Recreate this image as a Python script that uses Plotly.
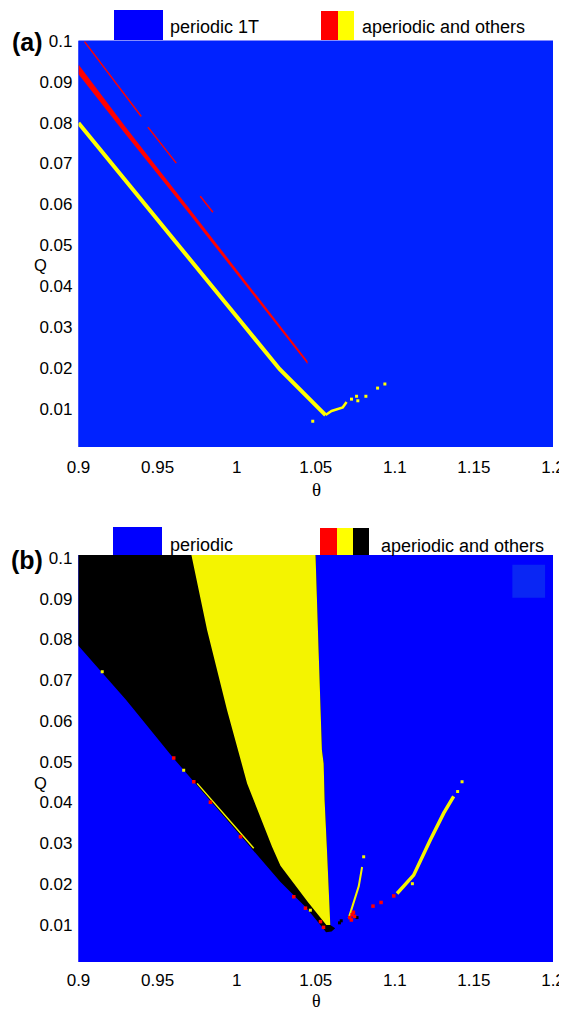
import plotly.graph_objects as go

# the page adds an 8 px body margin, so the figure is laid out in reference
# pixel coordinates shifted by that margin
OFF = 8
W, H = 567, 1010

# ---------------- axis ticks ----------------
theta_ticks = [0.9, 0.95, 1.0, 1.05, 1.1, 1.15, 1.2]
theta_labels = ["0.9", "0.95", "1", "1.05", "1.1", "1.15", "1.2"]
q_ticks = [0.01, 0.02, 0.03, 0.04, 0.05, 0.06, 0.07, 0.08, 0.09, 0.1]
q_labels = ["0.01", "0.02", "0.03", "0.04", "0.05", "0.06", "0.07", "0.08", "0.09", "0.1"]

# ---------------- panel (a) data ----------------
# yellow (aperiodic) curve
a_yel_theta = [0.9, 0.9300, 0.9595, 0.9639, 1.0000, 1.0272, 1.0494, 1.0562]
a_yel_q = [0.0799, 0.0656, 0.0519, 0.0497, 0.0326, 0.0197, 0.0112, 0.0085]
a_yel2_theta = [1.0562, 1.0600, 1.0671, 1.0695]
a_yel2_q = [0.0085, 0.0095, 0.0104, 0.0117]
a_yel_dots_theta = [1.0481, 1.0726, 1.0758, 1.0766, 1.0817, 1.0891, 1.0937]
a_yel_dots_q = [0.0070, 0.0124, 0.0131, 0.0120, 0.0131, 0.0151, 0.0161]
# thick red band (upper / lower edges)
a_red_theta = [0.9, 0.9300, 0.9700, 1.0448]
a_red_upper = [0.0942, 0.0788, 0.0590, 0.0217]
a_red_lower = [0.0918, 0.0770, 0.0577, 0.0210]
# thin red segments
a_thin_segments = [
    ([0.9038, 0.9397], [0.0998, 0.0815]),
    ([0.9439, 0.9618], [0.0789, 0.0701]),
    ([0.9770, 0.9850], [0.0620, 0.0581]),
]

# ---------------- panel (b) data ----------------
# lower boundary of the black region
b_low_theta = [0.9, 0.9300, 0.9602, 1.0066, 1.0277, 1.0440, 1.0550, 1.0565, 1.0600, 1.0623]
b_low_q = [0.0789, 0.0652, 0.0508, 0.0300, 0.0205, 0.0142, 0.0090, 0.0082, 0.0084, 0.0092]
# yellow / black boundary (left edge of yellow region)
b_yl_theta = [0.9703, 0.9813, 0.9939, 1.0066, 1.0223, 1.0277, 1.0450, 1.0567]
b_yl_q = [0.1010, 0.0823, 0.0627, 0.0447, 0.0292, 0.0245, 0.0156, 0.0100]
# yellow / blue boundary (right edge of yellow region)
b_yr_theta = [1.0497, 1.0518, 1.0539, 1.0550, 1.0556, 1.0571, 1.0588, 1.0592]
b_yr_q = [0.1010, 0.0774, 0.0529, 0.0496, 0.0406, 0.0284, 0.0129, 0.0100]
# specks on the black lower boundary
b_red_dots_theta = [0.9602, 0.9729, 0.9834, 1.0024, 1.0361, 1.0435, 1.0530, 1.0549,
                    1.0715, 1.0730, 1.0745, 1.0725, 1.0738, 1.0862, 1.0913, 1.0993]
b_red_dots_q = [0.0509, 0.0451, 0.0401, 0.0316, 0.0169, 0.0141, 0.0108, 0.0094,
                0.0118, 0.0125, 0.0121, 0.0112, 0.0131, 0.0146, 0.0155, 0.0171]
b_yel_dots_theta = [0.9150, 0.9665, 1.0319, 1.0466, 1.0803, 1.1111, 1.1397, 1.1425]
b_yel_dots_q = [0.0721, 0.0479, 0.0234, 0.0136, 0.0267, 0.0201, 0.0427, 0.0451]
b_blk_dots_theta = [1.0650, 1.0661, 1.0761]
b_blk_dots_q = [0.0105, 0.0110, 0.0118]
b_yel_strip_theta = [0.9750, 0.9930, 1.0108]
b_yel_strip_q = [0.0447, 0.0366, 0.0288]
# branch 1 (small) and branch 2 (right)
b_br1_theta = [1.0708, 1.0772, 1.0793]
b_br1_q = [0.0116, 0.0195, 0.0242]
b_br2_theta = [1.1014, 1.1119, 1.1224, 1.1309, 1.1372]
b_br2_q = [0.0177, 0.0222, 0.0308, 0.0374, 0.0415]

# ---------------- colours ----------------
BLUE_A = "#0022ff"
BLUE_B = "#0000ff"
RED = "#ff0000"
YEL_A = "#ffff00"
YEL_B = "#f4f400"
BLACK = "#000000"

A_RANGE = [0.0007, 0.10002]
B_RANGE = [0.0009, 0.1007]


def px(x):
    return (x - OFF) / W


def py(y):
    return 1 - (y - OFF) / H


fig = go.Figure()

# ---- panel (a) traces ----
fig.add_trace(go.Scatter(
    x=a_red_theta + a_red_theta[::-1], y=a_red_upper + a_red_lower[::-1],
    fill="toself", fillcolor=RED, mode="lines", line=dict(width=0, color=RED),
    xaxis="x", yaxis="y", hoverinfo="skip"))
for th, qq in a_thin_segments:
    fig.add_trace(go.Scatter(x=th, y=qq, mode="lines", line=dict(color=RED, width=1.5),
                             xaxis="x", yaxis="y", hoverinfo="skip"))
fig.add_trace(go.Scatter(x=a_yel_theta, y=a_yel_q, mode="lines",
                         line=dict(color=YEL_A, width=4), xaxis="x", yaxis="y", hoverinfo="skip"))
fig.add_trace(go.Scatter(x=a_yel2_theta, y=a_yel2_q, mode="lines",
                         line=dict(color=YEL_A, width=2.5), xaxis="x", yaxis="y", hoverinfo="skip"))
fig.add_trace(go.Scatter(x=a_yel_dots_theta, y=a_yel_dots_q, mode="markers",
                         marker=dict(color=YEL_A, size=3, symbol="square", line=dict(width=0)),
                         xaxis="x", yaxis="y", hoverinfo="skip"))

# ---- panel (b) traces ----
top_b = B_RANGE[1] + 0.002
black_x = [0.899, b_yr_theta[0]] + b_yr_theta[1:] + b_low_theta[::-1][:-1] + [0.899]
black_y = [top_b, top_b] + b_yr_q[1:] + b_low_q[::-1][:-1] + [b_low_q[0]]
fig.add_trace(go.Scatter(x=black_x, y=black_y, fill="toself", fillcolor=BLACK, mode="lines",
                         line=dict(width=0, color=BLACK), xaxis="x2", yaxis="y2", hoverinfo="skip"))
yel_x = [b_yl_theta[0], b_yr_theta[0]] + b_yr_theta[1:] + b_yl_theta[::-1][:-1] + [b_yl_theta[0]]
yel_y = [top_b, top_b] + b_yr_q[1:] + b_yl_q[::-1][:-1] + [top_b]
fig.add_trace(go.Scatter(x=yel_x, y=yel_y, fill="toself", fillcolor=YEL_B, mode="lines",
                         line=dict(width=0, color=YEL_B), xaxis="x2", yaxis="y2", hoverinfo="skip"))
fig.add_trace(go.Scatter(x=b_yel_strip_theta, y=b_yel_strip_q, mode="lines",
                         line=dict(color=YEL_B, width=1.5), xaxis="x2", yaxis="y2", hoverinfo="skip"))
fig.add_trace(go.Scatter(x=b_br1_theta, y=b_br1_q, mode="lines",
                         line=dict(color=YEL_B, width=2), xaxis="x2", yaxis="y2", hoverinfo="skip"))
fig.add_trace(go.Scatter(x=b_br2_theta, y=b_br2_q, mode="lines",
                         line=dict(color=YEL_B, width=3.5), xaxis="x2", yaxis="y2", hoverinfo="skip"))
fig.add_trace(go.Scatter(x=b_yel_dots_theta, y=b_yel_dots_q, mode="markers",
                         marker=dict(color=YEL_B, size=3, symbol="square", line=dict(width=0)),
                         xaxis="x2", yaxis="y2", hoverinfo="skip"))
fig.add_trace(go.Scatter(x=b_blk_dots_theta, y=b_blk_dots_q, mode="markers",
                         marker=dict(color=BLACK, size=3, symbol="square", line=dict(width=0)),
                         xaxis="x2", yaxis="y2", hoverinfo="skip"))
fig.add_trace(go.Scatter(x=b_red_dots_theta, y=b_red_dots_q, mode="markers",
                         marker=dict(color=RED, size=3.5, symbol="square", line=dict(width=0)),
                         xaxis="x2", yaxis="y2", hoverinfo="skip"))

TICKFONT = dict(family="Liberation Sans, Arial, sans-serif", size=17, color="black")
xdom = [px(78.5), px(553)]
common_x = dict(range=[0.9, 1.2], tickvals=theta_ticks, ticktext=theta_labels,
                showgrid=False, zeroline=False, showline=False, ticks="",
                tickfont=TICKFONT, domain=xdom, automargin=False)
common_y = dict(tickvals=q_ticks, ticktext=q_labels, showgrid=False, zeroline=False,
                showline=False, ticks="", tickfont=TICKFONT, ticklabelstandoff=5,
                automargin=False)

shapes = [
    # panel backgrounds
    dict(type="rect", xref="x domain", yref="y domain", x0=0, x1=1, y0=0, y1=1,
         fillcolor=BLUE_A, line=dict(width=0), layer="below"),
    dict(type="rect", xref="x2 domain", yref="y2 domain", x0=0, x1=1, y0=0, y1=1,
         fillcolor=BLUE_B, line=dict(width=0), layer="below"),
    # faint square in top-right of (b)
    dict(type="rect", xref="x2", yref="y2", x0=1.1743, x1=1.1950, y0=0.0902, y1=0.0983,
         fillcolor="#0a26f4", line=dict(width=0), layer="below"),
    # legend (a)
    dict(type="rect", xref="paper", yref="paper", x0=px(114), x1=px(163), y0=py(40), y1=py(10),
         fillcolor=BLUE_B, line=dict(width=0)),
    dict(type="rect", xref="paper", yref="paper", x0=px(321), x1=px(338), y0=py(40), y1=py(11),
         fillcolor=RED, line=dict(width=0)),
    dict(type="rect", xref="paper", yref="paper", x0=px(338), x1=px(354), y0=py(40), y1=py(11),
         fillcolor=YEL_A, line=dict(width=0)),
    # legend (b)
    dict(type="rect", xref="paper", yref="paper", x0=px(113), x1=px(162), y0=py(555), y1=py(527),
         fillcolor=BLUE_B, line=dict(width=0)),
    dict(type="rect", xref="paper", yref="paper", x0=px(320), x1=px(337), y0=py(555), y1=py(528),
         fillcolor=RED, line=dict(width=0)),
    dict(type="rect", xref="paper", yref="paper", x0=px(337), x1=px(353), y0=py(555), y1=py(528),
         fillcolor=YEL_A, line=dict(width=0)),
    dict(type="rect", xref="paper", yref="paper", x0=px(353), x1=px(369), y0=py(555), y1=py(528),
         fillcolor=BLACK, line=dict(width=0)),
]

LEGFONT = dict(family="Liberation Sans, Arial, sans-serif", size=18, color="black")
ann = [
    dict(text="periodic 1T", x=px(168), y=py(27), xref="paper", yref="paper",
         xanchor="left", yanchor="middle", showarrow=False, font=LEGFONT),
    dict(text="aperiodic and others", x=px(360), y=py(27), xref="paper", yref="paper",
         xanchor="left", yanchor="middle", showarrow=False, font=LEGFONT),
    dict(text="periodic", x=px(168), y=py(545), xref="paper", yref="paper",
         xanchor="left", yanchor="middle", showarrow=False, font=LEGFONT),
    dict(text="aperiodic and others", x=px(379), y=py(546), xref="paper", yref="paper",
         xanchor="left", yanchor="middle", showarrow=False, font=LEGFONT),
    dict(text="<b>(a)</b>", x=px(27), y=py(42), xref="paper", yref="paper",
         xanchor="center", yanchor="middle", showarrow=False,
         font=dict(family="Liberation Sans, Arial, sans-serif", size=25, color="black")),
    dict(text="<b>(b)</b>", x=px(27), y=py(560), xref="paper", yref="paper",
         xanchor="center", yanchor="middle", showarrow=False,
         font=dict(family="Liberation Sans, Arial, sans-serif", size=25, color="black")),
    dict(text="θ", x=px(316), y=py(489), xref="paper", yref="paper",
         xanchor="center", yanchor="middle", showarrow=False,
         font=dict(family="Liberation Serif, serif", size=19, color="black")),
    dict(text="θ", x=px(316), y=py(1001), xref="paper", yref="paper",
         xanchor="center", yanchor="middle", showarrow=False,
         font=dict(family="Liberation Serif, serif", size=18, color="black")),
    dict(text="Q", x=px(40), y=0.0452, xref="paper", yref="y",
         xanchor="center", yanchor="middle", showarrow=False,
         font=dict(family="Liberation Sans, Arial, sans-serif", size=16.5, color="black")),
    dict(text="Q", x=px(40), y=0.0448, xref="paper", yref="y2",
         xanchor="center", yanchor="middle", showarrow=False,
         font=dict(family="Liberation Sans, Arial, sans-serif", size=16.5, color="black")),
]

fig.update_layout(
    width=W, height=H, margin=dict(l=0, r=0, t=0, b=0),
    paper_bgcolor="white", plot_bgcolor=BLUE_B, showlegend=False,
    xaxis=dict(**common_x, anchor="y", ticklabelstandoff=8),
    yaxis=dict(**common_y, range=A_RANGE, domain=[py(447), py(40.7)], anchor="x"),
    xaxis2=dict(**common_x, anchor="y2", ticklabelstandoff=6),
    yaxis2=dict(**common_y, range=B_RANGE, domain=[py(962), py(555)], anchor="x2"),
    shapes=shapes, annotations=ann,
)

fig.write_html("out.html")
